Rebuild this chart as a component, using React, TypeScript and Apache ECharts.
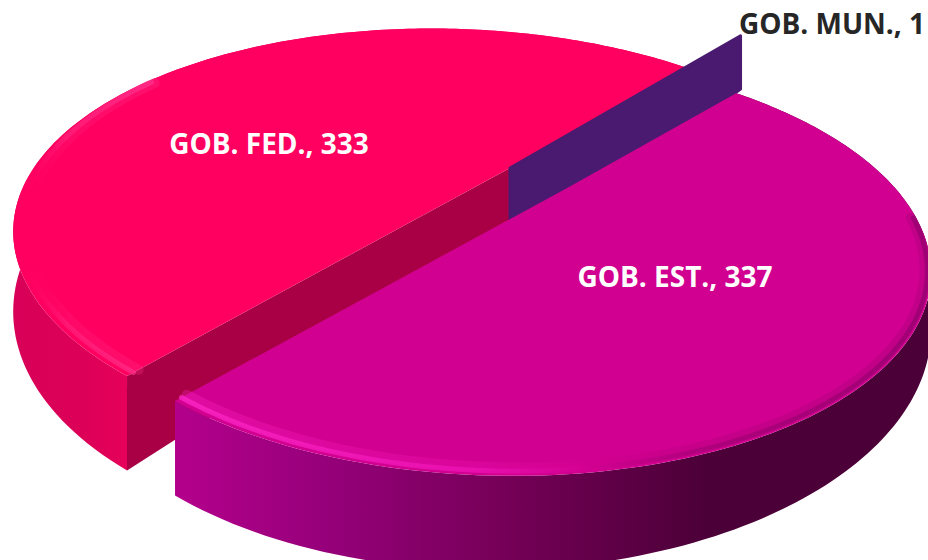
import React, { useEffect, useRef } from "react";
import * as echarts from "echarts";

const categories = ["GOB. FED.", "GOB. MUN.", "GOB. EST."];
const values = [333, 1, 337];

const START_DEG = 127.5;
const A = 391, B = 178, KU = 0.155, KV = 0.38, H = 57, SHEAR = 0.05;
type Look = { cx: number; cy: number; reach: number; tall: number; top: string; cut: string; wall: any; rim: any; from: number; to: number; lx: number; ly: number; lc: string };
const lg = (x0: number, x1: number, stops: [number, string][]) =>
  new echarts.graphic.LinearGradient(x0, 0, x1, 0, stops.map(([offset, color]) => ({ offset, color })));
const looks: Look[] = [
  { cx: 521, cy: 162, reach: 1, tall: 1, top: "#ff0060", cut: "#a90045", wall: lg(0, 1, [[0, "#d80058"], [0.1, "#dc0058"], [0.2, "#ea005a"], [1, "#ea005a"]]),
    rim: lg(0, 1, [[0, "rgba(255,0,96,0)"], [0.35, "rgba(255,40,130,0.7)"], [1, "rgba(255,50,140,1)"]]), from: 127.5, to: 200, lx: 269, ly: 143, lc: "#ffffff" },
  { cx: 510, cy: 168, reach: 1.66, tall: 1.55, top: "#4a1a70", cut: "#4a1a70", wall: "#4a1a70", rim: "#4a1a70", from: 0, to: 0, lx: 832, ly: 23, lc: "#262626" },
  { cx: 569, cy: 187, reach: 1, tall: 1, top: "#d20090", cut: "#a0007a", wall: lg(0, 1, [[0, "#b4008c"], [0.2, "#96007a"], [0.43, "#760058"], [0.7, "#4c0038"], [1, "#4c0038"]]),
    rim: lg(0, 1, [[0, "#ff28c8"], [0.4, "#ec12b4"], [0.55, "#d20090"], [0.72, "rgba(150,0,110,0.7)"], [1, "rgba(120,0,95,0.6)"]]), from: 127.5, to: 5, lx: 675, ly: 276, lc: "#ffffff" },
];

function project(t: number, r: number, z: number, L: Look) {
  const u = r * Math.cos(t), v = r * Math.sin(t);
  const w = 1 + KU * u - KV * v;
  const dx = (A * u) / w;
  return [L.cx + dx, L.cy + (B * v + z * H * L.tall) / w + SHEAR * dx];
}

function renderItem(params: any, api: any) {
  const i = params.dataIndex;
  const total = values.reduce((s, v) => s + v, 0);
  const before = values.slice(0, i).reduce((s, v) => s + v, 0);
  const t0 = ((START_DEG + (before / total) * 360) * Math.PI) / 180;
  const t1 = t0 + (api.value(0) / total) * 2 * Math.PI;
  const L = looks[i];
  const n = 160;
  const arc = (z: number) => {
    const pts: number[][] = [];
    for (let k = 0; k <= n; k++) pts.push(project(t0 + ((t1 - t0) * k) / n, L.reach, z, L));
    return pts;
  };
  const children: any[] = [];
  const poly = (points: number[][], fill: any, extra: any = {}) => children.push({ type: "polygon", shape: { points }, style: { fill, ...extra }, silent: true });
  const c0 = project(0, 0, 0, L), c1 = project(0, 0, 1, L);
  if (i === 1) {
    const rimTop = project(t0, L.reach, 0, L), rimBot = project(t0, L.reach, 1, L);
    poly([c0, rimTop, rimBot, c1], L.cut, { stroke: L.cut, lineWidth: 3, lineJoin: "round" });
  } else {
    const top = arc(0), bot = arc(1);
    poly([...top, ...bot.slice().reverse()], L.wall);
    if (i === 0) poly([c0, project(t0, 1, 0, L), project(t0, 1, 1, L), c1], L.cut);
    poly([c0, ...top], L.top);
    const a0 = (L.from * Math.PI) / 180, a1 = (L.to * Math.PI) / 180;
    for (const [r, width, opacity] of [[0.982, 10, 0.3], [0.99, 5, 0.75]]) {
      const rim: number[][] = [];
      for (let k = 0; k <= n; k++) rim.push(project(a0 + ((a1 - a0) * k) / n, r, 0, L));
      children.push({ type: "polyline", shape: { points: i === 0 ? rim.slice().reverse() : rim }, style: { stroke: L.rim, lineWidth: width, fill: "none", opacity, lineCap: "round" }, silent: true });
    }
  }
  children.push({
    type: "text", x: L.lx, y: L.ly, silent: true,
    style: { text: `${categories[i]}, ${api.value(0)}`, fill: L.lc, font: 'bold 28px "Open Sans", sans-serif', align: "center", verticalAlign: "middle" },
  });
  return { type: "group", children };
}

export default function App() {
  const ref = useRef<HTMLDivElement>(null);
  useEffect(() => {
    document.body.style.margin = "0";
    const chart = echarts.init(ref.current!, undefined, { renderer: "svg" });
    chart.setOption({
      animation: false,
      backgroundColor: "#ffffff",
      series: [{ type: "custom", coordinateSystem: "none", renderItem, data: values.map((v, i) => ({ name: categories[i], value: [v] })), clip: false }],
    });
    return () => chart.dispose();
  }, []);
  return <div ref={ref} style={{ width: 928, height: 560, overflow: "hidden" }} />;
}
